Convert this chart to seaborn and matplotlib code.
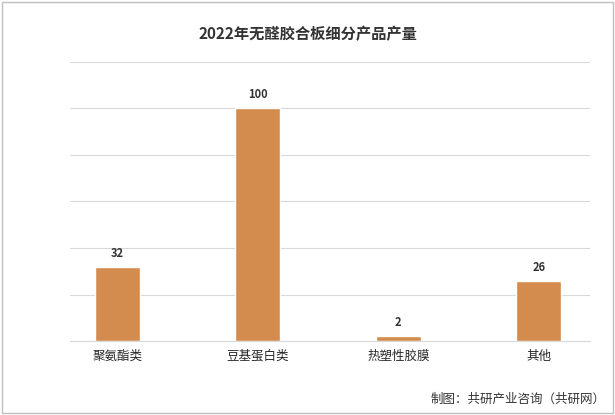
import matplotlib
matplotlib.use("Agg")
import matplotlib.pyplot as plt
import seaborn as sns
import pandas as pd

categories = ["聚氨酯类", "豆基蛋白类", "热塑性胶膜", "其他"]
values = [32, 100, 2, 26]

sns.set_style("white")
plt.rcParams['font.family'] = ['Noto Sans CJK SC', 'DejaVu Sans']

df = pd.DataFrame({"cat": categories, "val": values})
fig = plt.figure(figsize=(6.15, 4.15), dpi=100)
ax = fig.add_axes([0.114, 0.178, 0.846, 0.673])
sns.barplot(data=df, x="cat", y="val", color="#D48B4E", width=0.32, saturation=1, ax=ax)
ax.set_xlim(-0.335, 3.366)
ax.set_ylim(0, 120)
ax.set_yticks(range(0, 121, 20))
ax.yaxis.grid(True, color="#D9D9D9", linewidth=0.8)
ax.set_axisbelow(True)
ax.tick_params(axis="y", length=0, labelleft=False)
ax.tick_params(axis="x", length=0, labelsize=9, pad=6)
for s in ["top", "right", "left"]:
    ax.spines[s].set_visible(False)
ax.spines["bottom"].set_color("#D9D9D9")
ax.set_xlabel("")
ax.set_ylabel("")
for i, v in enumerate(values):
    ax.text(i, v + 3, str(v), ha="center", va="bottom", fontsize=8, fontweight="bold", color="#333333")
fig.text(0.5, 0.905, "2022年无醛胶合板细分产品产量", ha="center", fontsize=11, fontweight="bold", color="#333333")
fig.text(0.985, 0.03, "制图：共研产业咨询（共研网）", ha="right", fontsize=9, color="#333333")
fig.patches.append(plt.Rectangle((0.003, 0.005), 0.994, 0.99, transform=fig.transFigure,
                                 fill=False, edgecolor="#BFBFBF", linewidth=1))
fig.savefig("out.png", dpi=100)
